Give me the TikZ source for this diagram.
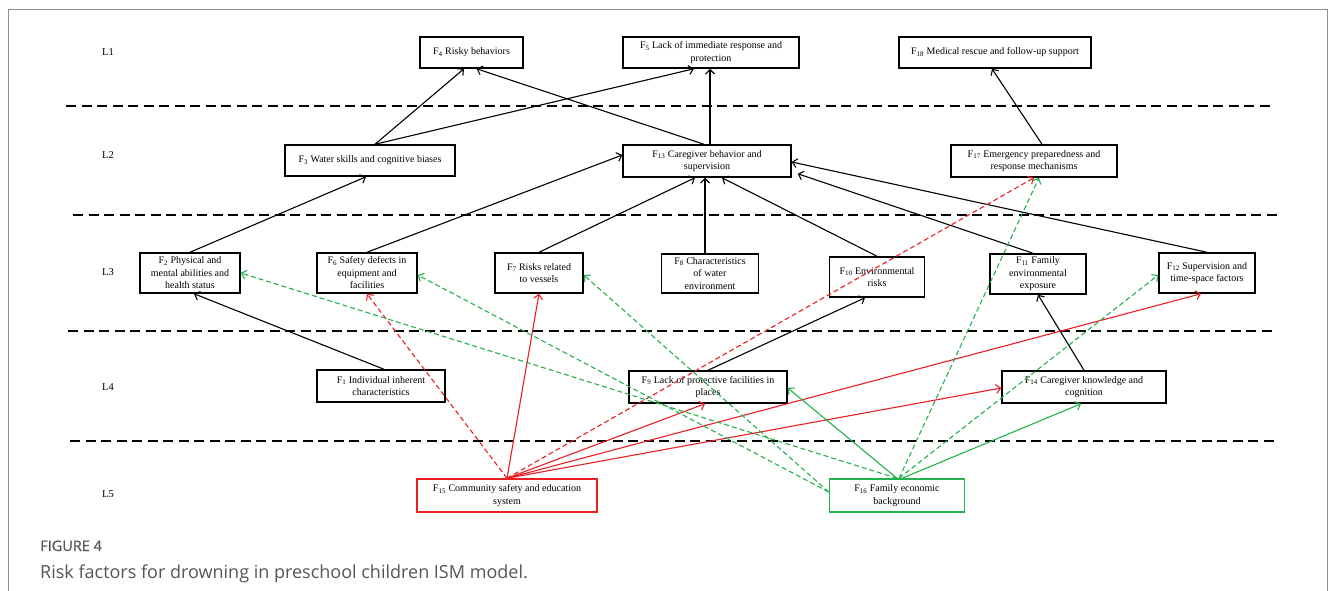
\documentclass[tikz,border=0pt]{standalone}
\usepackage{fontspec}
\setmainfont{Liberation Serif}
\newfontfamily\capfont{Open Sans}
\newfontfamily\capfontb{Open Sans}[FakeBold=0.8]
\usetikzlibrary{arrows.meta}
\definecolor{ismRed}{RGB}{235,30,35}
\definecolor{ismGreen}{RGB}{34,177,76}
\definecolor{ismFrame}{RGB}{140,140,140}
\definecolor{ismCap}{RGB}{85,85,85}

\begin{document}
\begin{tikzpicture}[x=1pt, y=-1pt,
  >={Straight Barb[length=4.5pt,width=9pt]},
  factor/.style 2 args={draw, line width=1.5pt, minimum width=#1pt, minimum height=#2pt,
    inner sep=1pt, align=center, font=\fontsize{10}{12.5}\selectfont},
  link/.style={->, line width=1.1pt},
  redlink/.style={->, ismRed, line width=1.1pt},
  reddash/.style={redlink, dash pattern=on 5pt off 3pt},
  greenlink/.style={->, ismGreen, line width=1.1pt},
  greendash/.style={greenlink, dash pattern=on 5pt off 3pt}]
  \useasboundingbox (0,0) rectangle (1333,590);

  % Outer frame
  \draw[ismFrame, line width=1pt] (8,600) -- (8,9) -- (1327,9) -- (1327,600);

  % Levels and separators
  \foreach \i/\y in {1/52, 2/155, 3/272, 4/387, 5/494}
    \node[font=\fontsize{10.5}{12}\selectfont] (lev\i) at (108,\y) {L\i};
  \foreach \y/\xa/\xb in {106/66/1271, 215/73/1277, 331/68/1274, 441/70/1275}
    \draw[line width=2.6pt, dash pattern=on 10pt off 5.5pt] (\xa,\y) -- (\xb,\y);

  % L1
  \node[factor={103}{31}] (f4) at (471.5,52.5) {F\textsubscript{4} Risky behaviors};
  \node[factor={176}{31}] (f5) at (711,52.5) {F\textsubscript{5} Lack of immediate response and\\protection};
  \node[factor={192}{31}] (f18) at (995,52.5) {F\textsubscript{18} Medical rescue and follow-up support};

  % L2
  \node[factor={170}{31}] (f3) at (370,160.5) {F\textsubscript{3} Water skills and cognitive biases};
  \node[factor={168}{32}] (f13) at (707,161) {F\textsubscript{13} Caregiver behavior and\\supervision};
  \node[factor={166}{32}] (f17) at (1034,161) {F\textsubscript{17} Emergency preparedness and\\response mechanisms};

  % L3
  \node[factor={100}{40}] (f2) at (190,273) {F\textsubscript{2} Physical and\\mental abilities and\\health status};
  \node[factor={100}{40}] (f6) at (367,273) {F\textsubscript{6} Safety defects in\\equipment and\\facilities};
  \node[factor={88}{40}] (f7) at (539,273) {F\textsubscript{7} Risks related\\to vessels};
  \node[factor={97}{39}] (f8) at (710,273.5) {F\textsubscript{8} Characteristics\\of water\\environment};
  \node[factor={95}{40}] (f10) at (877,277) {F\textsubscript{10} Environmental\\risks};
  \node[factor={96}{40}] (f11) at (1038,274) {F\textsubscript{11} Family\\environmental\\exposure};
  \node[factor={96}{40}] (f12) at (1207,273) {F\textsubscript{12} Supervision and\\time-space factors};

  % L4
  \node[factor={128}{32}] (f1) at (381,386) {F\textsubscript{1} Individual inherent\\characteristics};
  \node[factor={158}{32}] (f9) at (708,387) {F\textsubscript{9} Lack of protective facilities in\\places};
  \node[factor={164}{32}] (f14) at (1084,387) {F\textsubscript{14} Caregiver knowledge and\\cognition};

  % L5
  \node[factor={180}{33}, ismRed, text=black] (f15) at (507,495.5) {F\textsubscript{15} Community safety and education\\system};
  \node[factor={135}{33}, ismGreen, text=black] (f16) at (897,495.5) {F\textsubscript{16} Family economic\\background};

  % Black links
  \draw[link] ([xshift=5pt]f3.north) -- ([xshift=-7.5pt]f4.south);
  \draw[link] ([xshift=5pt]f3.north) -- ([xshift=-17pt]f5.south);
  \draw[link] ([xshift=3pt]f13.north) -- ([xshift=-1pt]f5.south);
  \draw[link] ([xshift=-3pt]f13.north) -- ([xshift=5pt]f4.south);
  \draw[link] ([xshift=8pt]f17.north) -- ([xshift=-3pt]f18.south);
  \draw[link] (f2.north) -- ([xshift=-4pt]f3.south);
  \draw[link] (f6.north) -- ([yshift=6pt]f13.west);
  \draw[link] (f7.north) -- ([xshift=-12pt]f13.south);
  \draw[link] ([xshift=-5pt]f8.north) -- ([xshift=-2pt]f13.south);
  \draw[link] (f10.north) -- ([xshift=15pt]f13.south);
  \draw[link] ([xshift=-5pt]f11.north) -- ([xshift=6pt,yshift=4pt]f13.south east);
  \draw[link] (f12.north) -- ([yshift=-1pt]f13.east);
  \draw[link] ([xshift=3pt]f1.north) -- ([xshift=4pt]f2.south);
  \draw[link] (f9.north) -- ([xshift=-12pt]f10.south);
  \draw[link] (f14.north) -- (f11.south);

  % Red links from F15
  \draw[reddash] (f15.north) -- (f6.south);
  \draw[redlink] (f15.north) -- (f7.south);
  \draw[redlink] (f15.north) -- ([xshift=-3pt]f9.south);
  \draw[redlink] (f15.north) -- ([yshift=-1pt]f14.west);
  \draw[redlink] (f15.north) -- ([xshift=-6pt]f12.south);
  \draw[reddash] (f15.north) -- (f17.south);

  % Green links from F16
  \draw[greendash] (f16.north) -- (f2.east);
  \draw[greendash] ([yshift=3.5pt]f16.west) -- ([yshift=-2pt]f6.east);
  \draw[greendash] ([yshift=3.5pt]f16.west) -- ([yshift=-2pt]f7.east);
  \draw[greenlink] (f16.north) -- ([yshift=-1pt]f9.east);
  \draw[greenlink] ([xshift=5pt]f16.north) -- ([xshift=-3pt]f14.south);
  \draw[greendash] ([xshift=2pt]f16.north) -- ([xshift=5pt]f17.south);
  \draw[greendash] ([xshift=2pt]f16.north) -- ([yshift=-2pt]f12.west);

  % Caption
  \node[anchor=base west, inner sep=0, text=ismCap, font=\capfontb\fontsize{14.5}{16}\selectfont] (figlab) at (40,551) {FIGURE 4};
  \node[anchor=base west, inner sep=0, text=ismCap, font=\capfont\fontsize{18}{20}\selectfont] (figcap) at (40,578) {Risk factors for drowning in preschool children ISM model.};
\end{tikzpicture}
\end{document}
